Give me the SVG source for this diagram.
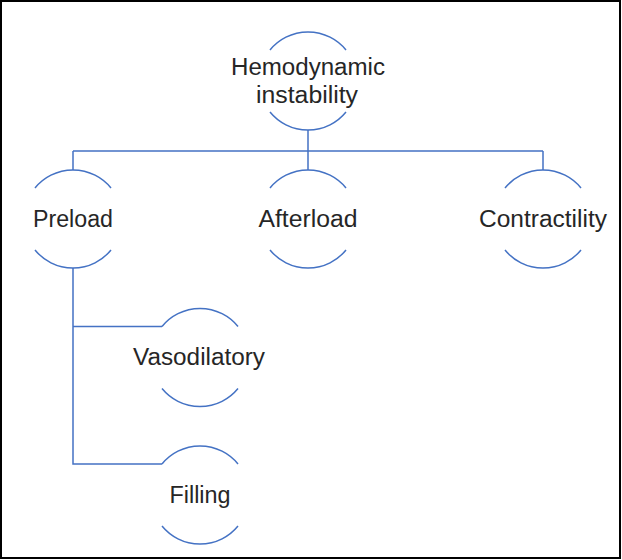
<svg xmlns="http://www.w3.org/2000/svg" width="622" height="560" viewBox="0 0 622 560">
<style>
.arc{fill:none;stroke:#4472C4;stroke-width:1.5}
.con{fill:none;stroke:#4472C4;stroke-width:1.5}
text{font-family:"Liberation Sans",Arial,sans-serif;font-size:23px;fill:#262626;text-anchor:middle}
</style>
<rect x="1" y="1" width="619" height="557" fill="#ffffff" stroke="#000000" stroke-width="2"/>
<g id="connectors">
<path class="con" d="M308,130 V151 M73,151 H543 M73,151 V170 M308,151 V170 M543,151 V170"/>
<path class="con" d="M73,268 V464 H162 M73,326.5 H162"/>
</g>
<g id="n-hemo">
<path class="arc" d="M270,50 A49,49 0 0 1 346,50 M270,112 A49,49 0 0 0 346,112"/>
<text x="308" y="75" textLength="154" lengthAdjust="spacingAndGlyphs">Hemodynamic</text>
<text x="307" y="103" textLength="102" lengthAdjust="spacingAndGlyphs">instability</text>
</g>
<g id="n-preload">
<path class="arc" d="M35,188 A49,49 0 0 1 111,188 M35,250 A49,49 0 0 0 111,250"/>
<text x="73" y="227" textLength="80" lengthAdjust="spacingAndGlyphs">Preload</text>
</g>
<g id="n-afterload">
<path class="arc" d="M270,188 A49,49 0 0 1 346,188 M270,250 A49,49 0 0 0 346,250"/>
<text x="308" y="227" textLength="99" lengthAdjust="spacingAndGlyphs">Afterload</text>
</g>
<g id="n-contractility">
<path class="arc" d="M505,188 A49,49 0 0 1 581,188 M505,250 A49,49 0 0 0 581,250"/>
<text x="543" y="227" textLength="128" lengthAdjust="spacingAndGlyphs">Contractility</text>
</g>
<g id="n-vasodilatory">
<path class="arc" d="M162,326.5 A49,49 0 0 1 238,326.5 M162,388.5 A49,49 0 0 0 238,388.5"/>
<text x="199" y="365" textLength="132" lengthAdjust="spacingAndGlyphs">Vasodilatory</text>
</g>
<g id="n-filling">
<path class="arc" d="M162,464 A49,49 0 0 1 238,464 M162,526 A49,49 0 0 0 238,526"/>
<text x="200" y="503" textLength="61" lengthAdjust="spacingAndGlyphs">Filling</text>
</g>
</svg>
